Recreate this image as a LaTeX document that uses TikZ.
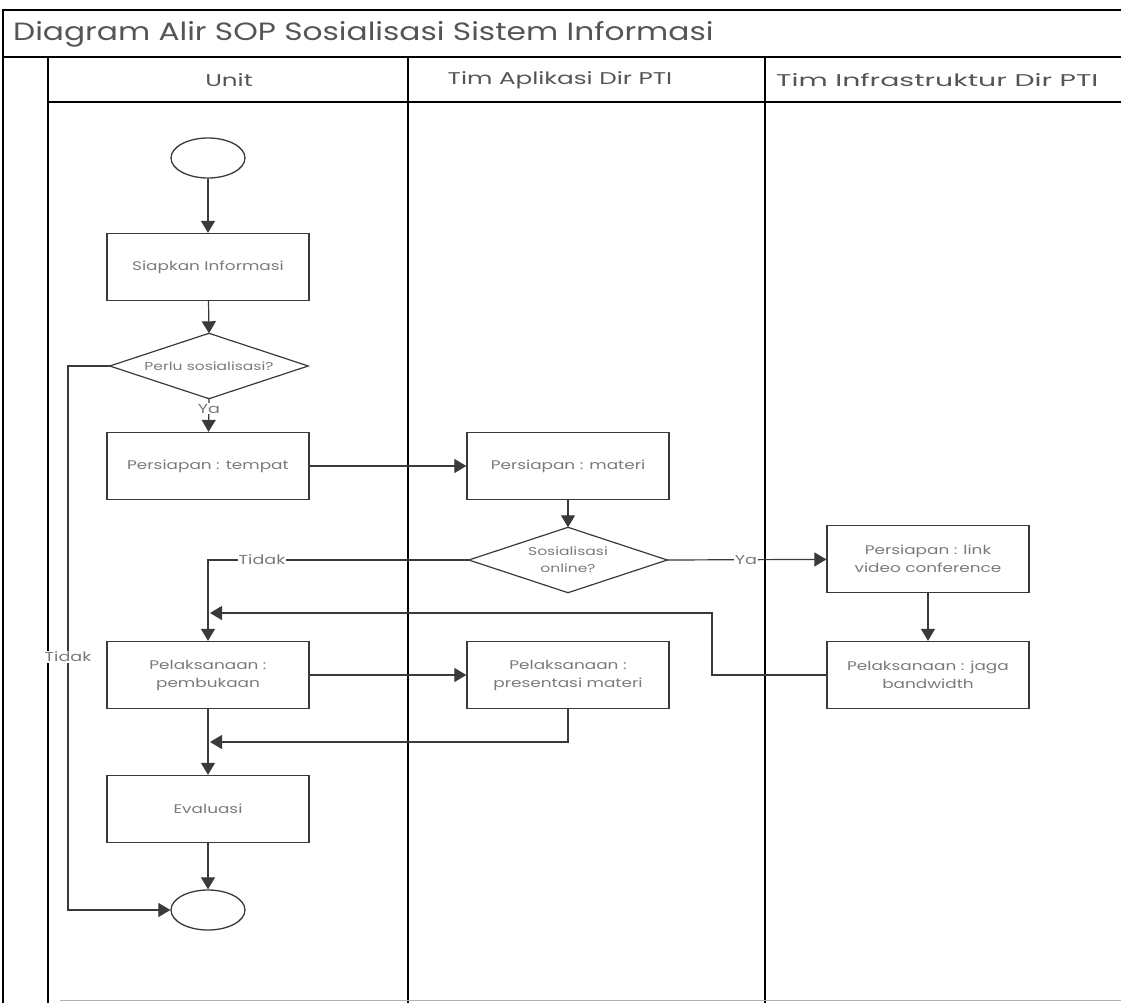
\documentclass[tikz,border=0pt]{standalone}
\usepackage{fontspec}
\setmainfont{Poppins}
\newfontfamily\widefont[FakeStretch=1.35]{Poppins}
\newfontfamily\titlefont[FakeStretch=1.25]{Poppins}
\newfontfamily\hdrfont[FakeStretch=1.45]{Poppins}
\usetikzlibrary{arrows.meta,shapes.geometric}
\definecolor{txtgray}{HTML}{7A7A7A}
\definecolor{hdrgray}{HTML}{555555}
\definecolor{linegray}{HTML}{3A3A3A}
\tikzset{
  frame/.style={line width=1.6pt, black},
  procbox/.style={draw=linegray, line width=1.3pt, rectangle, minimum width=202pt, minimum height=67pt, inner sep=2pt, align=center, text=txtgray, font=\widefont\fontsize{12.5}{18}\selectfont},
  decbox/.style={rectangle, minimum width=198pt, minimum height=65pt, inner sep=0pt, align=center, text=txtgray, font=\widefont\fontsize{11.5}{17}\selectfont},
  term/.style={draw=linegray, line width=1.3pt, ellipse, minimum width=74pt, minimum height=40pt, inner sep=0pt},
  conn/.style={draw=linegray, line width=1.2pt},
  arr/.style={conn, -{Triangle[length=12pt,width=14pt]}},
  lbl/.style={fill=white, inner sep=1pt, text=txtgray, font=\widefont\fontsize{13}{15}\selectfont},
  hdr/.style={text=hdrgray, inner sep=0pt, font=\hdrfont\fontsize{17}{20}\selectfont},
}
\begin{document}
\begin{tikzpicture}[x=1pt,y=-1pt]
\useasboundingbox (0,0) rectangle (1121,1003);
% frame
\draw[frame] (3,1003) -- (3,10) -- (1121,10);
\draw[frame] (3,57) -- (1121,57);
\draw[frame] (48,102) -- (1121,102);
\draw[frame] (48,57) -- (48,1003);
\draw[frame] (408,57) -- (408,1003);
\draw[frame] (765,57) -- (765,1003);
\draw[line width=1pt, gray!60] (60,1000) -- (1121,1000);
% titles
\node[anchor=west, text=hdrgray, font=\titlefont\fontsize{25}{30}\selectfont, inner sep=0pt] (title) at (13,34) {Diagram Alir SOP Sosialisasi Sistem Informasi};
\node[hdr] (h1) at (229,80) {Unit};
\node[hdr] (h2) at (560,80) {Tim Aplikasi Dir PTI};
\node[hdr, anchor=west] (h3) at (776,80) {\scalebox{1.15}[1]{Tim Infrastruktur Dir PTI}};
% nodes
\node[term] (start) at (208,158) {};
\node[procbox] (info) at (208,267) {Siapkan Informasi};
\node[decbox] (perlu) at (209,366) {Perlu sosialisasi?};
\draw[conn] (perlu.west) -- (perlu.north) -- (perlu.east) -- (perlu.south) -- cycle;
\node[procbox] (tempat) at (208,466) {Persiapan : tempat};
\node[procbox] (materi) at (568,466) {Persiapan : materi};
\node[decbox] (online) at (568,560) {Sosialisasi\\online?};
\draw[conn] (online.west) -- (online.north) -- (online.east) -- (online.south) -- cycle;
\node[procbox] (link) at (928,559) {Persiapan : link\\video conference};
\node[procbox] (jaga) at (928,675) {Pelaksanaan : jaga\\bandwidth};
\node[procbox] (buka) at (208,675) {Pelaksanaan :\\pembukaan};
\node[procbox] (pres) at (568,675) {Pelaksanaan :\\presentasi materi};
\node[procbox] (eval) at (208,809) {Evaluasi};
\node[term] (stop) at (208,910) {};
% helper coordinates
\coordinate (tidakL) at (68,910);
\coordinate (jm) at (712,613);
\coordinate (pm) at (210,613);
\coordinate (pe) at (210,742);
% connectors
\draw[arr] (start) -- (info);
\draw[arr] (info) -- (perlu.north);
\draw[arr] (perlu.south) -- node[lbl, pos=0.3] (ya1) {Ya} (tempat);
\draw[arr] (tempat) -- (materi);
\draw[arr] (materi) -- (online.north);
\draw[arr] (online.west) -| (buka.north);
\node[lbl] (tidak1) at (262,560) {Tidak};
\draw[arr] (online.east) -- (link);
\node[lbl] (ya2) at (746,560) {Ya};
\draw[arr] (link) -- (jaga);
\draw[arr] (jaga.west) -| (jm) -- (pm);
\draw[arr] (buka) -- (pres);
\draw[arr] (pres.south) |- (pe);
\draw[arr] (buka) -- (eval);
\draw[arr] (eval) -- (stop);
\draw[arr] (perlu.west) -| (tidakL) -- (stop.west);
\node[lbl] (tidak2) at (68,657) {Tidak};
\end{tikzpicture}
\end{document}
